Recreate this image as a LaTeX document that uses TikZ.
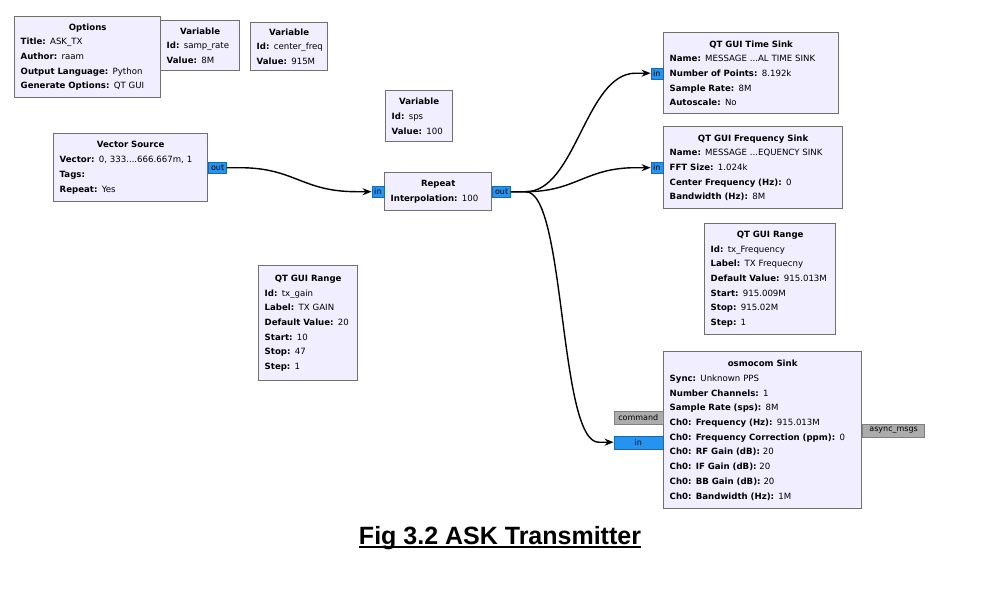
\documentclass[tikz,border=0pt]{standalone}
\usepackage{fontspec}
\setmainfont{DejaVu Sans}
\newfontfamily\capfont{Liberation Sans}
\usetikzlibrary{arrows.meta,positioning}
\definecolor{blockfill}{RGB}{241,238,255}
\definecolor{blockline}{RGB}{112,112,112}
\definecolor{portblue}{RGB}{36,148,240}
\definecolor{portgray}{RGB}{172,172,172}
\tikzset{
    block/.style={
	anchor=north west,
	rectangle,
	draw=blockline,
	fill=blockfill,
	line width=1.4pt,
	align=left,
	inner xsep=6pt,
	inner ysep=0pt,
	font=\fontsize{8.6}{14.7}\selectfont
    },
    port/.style={
	rectangle,
	draw=portblue!70!black,
	fill=portblue,
	line width=0.4pt,
	inner sep=0pt,
	minimum height=11pt,
	font=\fontsize{8}{9}\selectfont
    },
    msgport/.style={
	port,
	draw=gray,
	fill=portgray,
	minimum height=13pt
    },
    wire/.style={
	draw=black,
	line width=1.4pt
    },
}
\newcommand\blk[2]{%
    \makebox[\hsize]{\textbf{#1}}\\#2}
\newcommand\kv[2]{\mbox{\textbf{#1:} #2}}
\newsavebox\capbox
\newcommand\capul[1]{%
    \sbox\capbox{#1}\rlap{\usebox\capbox}\rule[-4pt]{\wd\capbox}{2pt}}

\begin{document}
\begin{tikzpicture}[x=1pt,y=-1pt,->,>={Stealth[length=9pt,width=7pt]}]
    \useasboundingbox (0,0) rectangle (981,589);

    \node[block, text width=134pt, minimum height=81pt] (OPT) at (14,16) {%
	\blk{Options}{%
	    \kv{Title}{ASK\_TX}\\
	    \kv{Author}{raam}\\
	    \kv{Output Language}{Python}\\
	    \kv{Generate Options}{QT GUI}}};

    \node[block, text width=67pt, minimum height=50pt] (SRATE) at (160,20) {%
	\blk{Variable}{%
	    \kv{Id}{samp\_rate}\\
	    \kv{Value}{8M}}};

    \node[block, text width=65pt, minimum height=48pt] (CFREQ) at (250,22) {%
	\blk{Variable}{%
	    \kv{Id}{center\_freq}\\
	    \kv{Value}{915M}}};

    \node[block, text width=55pt, minimum height=51pt] (SPS) at (385,90) {%
	\blk{Variable}{%
	    \kv{Id}{sps}\\
	    \kv{Value}{100}}};

    \node[block, text width=142pt, minimum height=68pt] (VEC) at (53,133) {%
	\blk{Vector Source}{%
	    \kv{Vector}{0, 333....666.667m, 1}\\
	    \textbf{Tags:}\\
	    \kv{Repeat}{Yes}}};

    \node[block, text width=95pt, minimum height=38pt] (RPT) at (384,172) {%
	\blk{Repeat}{%
	    \kv{Interpolation}{100}}};

    \node[block, text width=163pt, minimum height=81pt] (TSINK) at (663,32) {%
	\blk{QT GUI Time Sink}{%
	    \kv{Name}{MESSAGE ...AL TIME SINK}\\
	    \kv{Number of Points}{8.192k}\\
	    \kv{Sample Rate}{8M}\\
	    \kv{Autoscale}{No}}};

    \node[block, text width=167pt, minimum height=82pt] (FSINK) at (663,126) {%
	\blk{QT GUI Frequency Sink}{%
	    \kv{Name}{MESSAGE ...EQUENCY SINK}\\
	    \kv{FFT Size}{1.024k}\\
	    \kv{Center Frequency (Hz)}{0}\\
	    \kv{Bandwidth (Hz)}{8M}}};

    \node[block, text width=119pt, minimum height=111pt] (FRANGE) at (704,223) {%
	\blk{QT GUI Range}{%
	    \kv{Id}{tx\_Frequency}\\
	    \kv{Label}{TX Frequecny}\\
	    \kv{Default Value}{915.013M}\\
	    \kv{Start}{915.009M}\\
	    \kv{Stop}{915.02M}\\
	    \kv{Step}{1}}};

    \node[block, text width=87pt, minimum height=115pt] (GRANGE) at (258,265) {%
	\blk{QT GUI Range}{%
	    \kv{Id}{tx\_gain}\\
	    \kv{Label}{TX GAIN}\\
	    \kv{Default Value}{20}\\
	    \kv{Start}{10}\\
	    \kv{Stop}{47}\\
	    \kv{Step}{1}}};

    \node[block, text width=186pt, minimum height=157pt] (OSM) at (663,351) {%
	\blk{osmocom Sink}{%
	    \kv{Sync}{Unknown PPS}\\
	    \kv{Number Channels}{1}\\
	    \kv{Sample Rate (sps)}{8M}\\
	    \kv{Ch0: Frequency (Hz)}{915.013M}\\
	    \kv{Ch0: Frequency Correction (ppm)}{0}\\
	    \kv{Ch0: RF Gain (dB)}{20}\\
	    \kv{Ch0: IF Gain (dB)}{20}\\
	    \kv{Ch0: BB Gain (dB)}{20}\\
	    \kv{Ch0: Bandwidth (Hz)}{1M}}};

    % ports
    \node[port, minimum width=18pt, right=0pt of VEC] (VECout) {out};
    \node[port, minimum width=12pt, left=0pt of RPT] (RPTin) {in};
    \node[port, minimum width=18pt, right=0pt of RPT] (RPTout) {out};
    \node[port, minimum width=12pt, left=0pt of TSINK] (TSINKin) {in};
    \node[port, minimum width=12pt, left=0pt of FSINK] (FSINKin) {in};
    \node[port, minimum width=49pt, minimum height=13pt, anchor=east]
	(OSMin) at ([yshift=-12pt]OSM.west) {in};
    \node[msgport, minimum width=49pt, anchor=east]
	(OSMcmd) at ([yshift=13pt]OSM.west) {command};
    \node[msgport, minimum width=62pt, right=0pt of OSM] (OSMmsg) {async\_msgs};

    % connections
    \draw[wire] (VECout.east) -- ++(13,0) .. controls +(55,0) and +(-55,0)
	.. ([xshift=-15pt]RPTin.west) -- (RPTin.west);
    \draw[wire] (RPTout.east) -- ++(15,0) .. controls +(50,0) and +(-50,0)
	.. ([xshift=-15pt]TSINKin.west) -- (TSINKin.west);
    \draw[wire] (RPTout.east) -- ++(15,0) .. controls +(50,0) and +(-50,0)
	.. ([xshift=-15pt]FSINKin.west) -- (FSINKin.west);
    \draw[wire] (RPTout.east) -- ++(15,0) .. controls +(40,0) and +(-40,0)
	.. ([xshift=-15pt]OSMin.west) -- (OSMin.west);

    \node[font=\capfont\bfseries\fontsize{25}{30}\selectfont] (CAP) at (500,538)
	{\capul{Fig 3.2 ASK Transmitter}};
\end{tikzpicture}
\end{document}
